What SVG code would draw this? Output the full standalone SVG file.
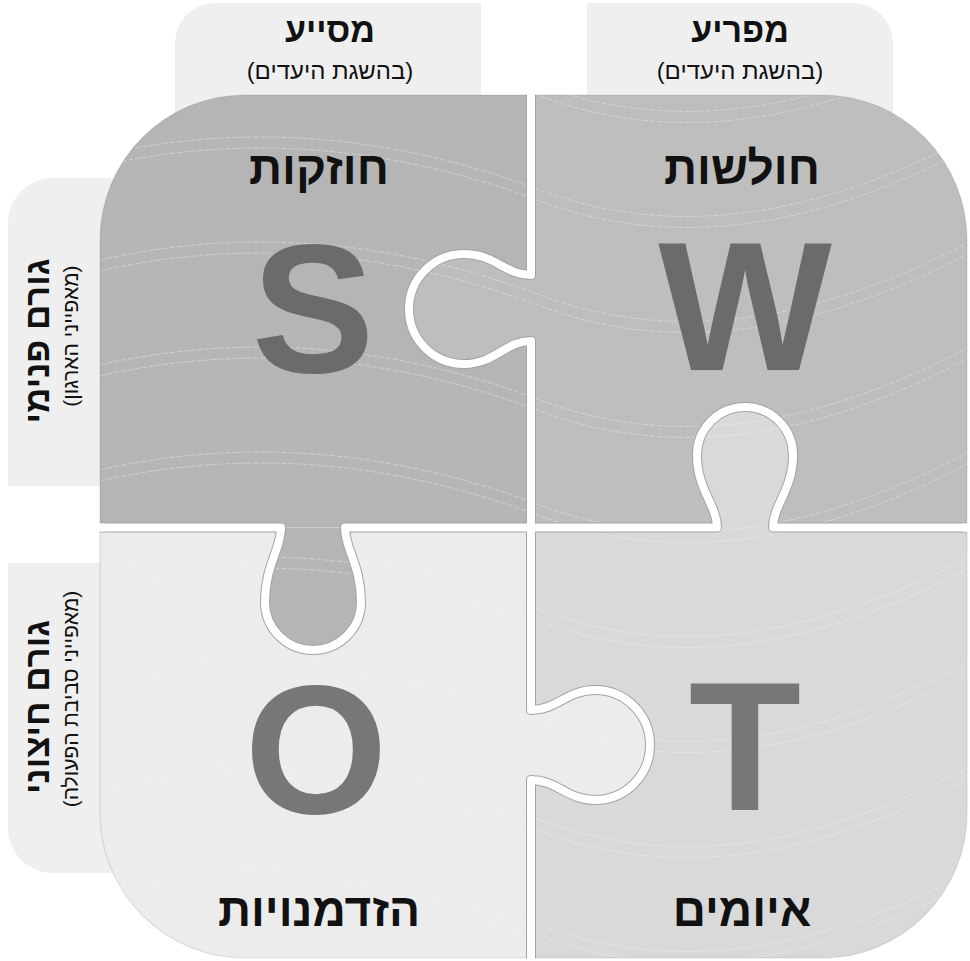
<svg xmlns="http://www.w3.org/2000/svg" xmlns:xlink="http://www.w3.org/1999/xlink" width="970" height="961" viewBox="0 0 970 961">
  <style>
    .tab { fill: #efefef; }
    .he { font-family: 'Liberation Sans', Arial, 'DejaVu Sans', sans-serif; direction: rtl; text-anchor: middle; fill: #111; }
    .hb { font-weight: bold; }
    .big { font-family: 'Liberation Sans', Arial, sans-serif; font-size: 184px; font-weight: bold; text-anchor: middle; }
    .seam-dark { fill: none; stroke: #a3a3a3; stroke-width: 10; stroke-linejoin: round; }
    .seam { fill: none; stroke: #ffffff; stroke-width: 8; stroke-linejoin: round; }
    .tex { fill: none; stroke: #ffffff; stroke-width: 1; stroke-opacity: 0.35; stroke-dasharray: 5 2; }
  </style>
  <defs>
    <clipPath id="outer">
      <path d="M 245 95 H 822 A 145 145 0 0 1 967 240 V 813 A 145 145 0 0 1 822 958 H 245 A 145 145 0 0 1 100 813 V 240 A 145 145 0 0 1 245 95 Z"/>
    </clipPath>
    <path id="wave" d="M 60 0 C 220 -45 380 -35 540 25 S 860 35 1000 -45"/>
  </defs>
  <rect width="970" height="961" fill="#ffffff"/>

  <!-- side and top tabs -->
  <g id="tab-supportive">
    <path class="tab" d="M 175 43 A 40 40 0 0 1 215 3 H 481 V 140 H 175 Z"/>
    <text class="he hb" x="330" y="42" font-size="34">מסייע</text>
    <text class="he" x="330" y="79" font-size="24">(בהשגת היעדים)</text>
  </g>
  <g id="tab-hindering">
    <path class="tab" d="M 587 3 H 853 A 40 40 0 0 1 893 43 V 140 H 587 Z"/>
    <text class="he hb" x="740" y="42" font-size="34">מפריע</text>
    <text class="he" x="740" y="79" font-size="24">(בהשגת היעדים)</text>
  </g>
  <g id="tab-internal">
    <path class="tab" d="M 8 223 A 45 45 0 0 1 53 178 H 150 V 486 H 8 Z"/>
    <text class="he hb" font-size="35" transform="translate(49,341) rotate(-90)">גורם פנימי</text>
    <text class="he" font-size="21" transform="translate(78,336) rotate(-90)">(מאפייני הארגון)</text>
  </g>
  <g id="tab-external">
    <path class="tab" d="M 8 563 H 150 V 873 H 53 A 45 45 0 0 1 8 828 Z"/>
    <text class="he hb" font-size="35" transform="translate(49,707) rotate(-90)">גורם חיצוני</text>
    <text class="he" font-size="21" transform="translate(78,699) rotate(-90)">(מאפייני סביבת הפעולה)</text>
  </g>

  <!-- puzzle pieces -->
  <g clip-path="url(#outer)">
    <g id="piece-S"><rect x="100" y="95" width="431" height="432.5" fill="#b5b5b5"/></g>
    <g id="piece-W"><rect x="531" y="95" width="436" height="432.5" fill="#bebebe"/></g>
    <g id="piece-O"><rect x="100" y="527.5" width="431" height="431" fill="#ececec"/></g>
    <g id="piece-T"><rect x="531" y="527.5" width="436" height="431" fill="#d9d9d9"/></g>
    <g id="knobs">
      <path fill="#bebebe" d="M 531 275 C 505 275 495 254 464 254 A 55 55 0 0 0 464 364 C 495 364 505 341 531 341 Z"/>
      <path fill="#d9d9d9" d="M 717 527.5 C 717 505 697 490 697 455 A 48 48 0 1 1 793 455 C 793 490 773 505 773 527.5 Z"/>
      <path fill="#b5b5b5" d="M 281 527.5 C 281 550 265 565 265 602 A 48 48 0 1 0 361 602 C 361 565 345 550 345 527.5 Z"/>
      <path fill="#ececec" d="M 531 710 C 557 710 567 690 595 690 A 55 55 0 0 1 595 800 C 567 800 557 780 531 780 Z"/>
    </g>
    <g id="texture" class="tex">
      <use xlink:href="#wave" y="60"/><use xlink:href="#wave" y="71"/>
      <use xlink:href="#wave" y="165"/><use xlink:href="#wave" y="176"/>
      <use xlink:href="#wave" y="270"/><use xlink:href="#wave" y="281"/>
      <use xlink:href="#wave" y="375"/><use xlink:href="#wave" y="386"/>
      <use xlink:href="#wave" y="480"/><use xlink:href="#wave" y="491"/>
      <use xlink:href="#wave" y="585"/><use xlink:href="#wave" y="596"/>
      <use xlink:href="#wave" y="690"/><use xlink:href="#wave" y="701"/>
      <use xlink:href="#wave" y="795"/><use xlink:href="#wave" y="806"/>
      <use xlink:href="#wave" y="900"/><use xlink:href="#wave" y="911"/>
      <use xlink:href="#wave" y="1005"/><use xlink:href="#wave" y="1016"/>
    </g>
    <!-- seams between pieces -->
    <g id="connectors">
      <g class="seam-dark">
        <path d="M 531 90 V 275 C 505 275 495 254 464 254 A 55 55 0 0 0 464 364 C 495 364 505 341 531 341 V 527.5"/>
        <path d="M 531 527.5 V 710 C 557 710 567 690 595 690 A 55 55 0 0 1 595 800 C 567 800 557 780 531 780 V 965"/>
        <path d="M 95 527.5 H 281 C 281 550 265 565 265 602 A 48 48 0 1 0 361 602 C 361 565 345 550 345 527.5 H 531"/>
        <path d="M 531 527.5 H 717 C 717 505 697 490 697 455 A 48 48 0 1 1 793 455 C 793 490 773 505 773 527.5 H 972"/>
      </g>
      <g class="seam">
        <path d="M 531 90 V 275 C 505 275 495 254 464 254 A 55 55 0 0 0 464 364 C 495 364 505 341 531 341 V 527.5"/>
        <path d="M 531 527.5 V 710 C 557 710 567 690 595 690 A 55 55 0 0 1 595 800 C 567 800 557 780 531 780 V 965"/>
        <path d="M 95 527.5 H 281 C 281 550 265 565 265 602 A 48 48 0 1 0 361 602 C 361 565 345 550 345 527.5 H 531"/>
        <path d="M 531 527.5 H 717 C 717 505 697 490 697 455 A 48 48 0 1 1 793 455 C 793 490 773 505 773 527.5 H 972"/>
      </g>
    </g>
  </g>
  <path d="M 245 95 H 822 A 145 145 0 0 1 967 240 V 813 A 145 145 0 0 1 822 958 H 245 A 145 145 0 0 1 100 813 V 240 A 145 145 0 0 1 245 95 Z" fill="none" stroke="#000" stroke-opacity="0.1" stroke-width="1.2"/>
  <rect x="527" y="90" width="8" height="10" fill="#ffffff"/>
  <rect x="527" y="953" width="8" height="10" fill="#ffffff"/>
  <rect x="95" y="523.5" width="10" height="8" fill="#ffffff"/>
  <rect x="962" y="523.5" width="10" height="8" fill="#ffffff"/>

  <!-- labels -->
  <g id="label-S">
    <text class="big" x="313" y="372" fill="#6b6b6b">S</text>
    <text class="he hb" x="319" y="184" font-size="46">חוזקות</text>
  </g>
  <g id="label-W">
    <text class="big" x="745" y="370" fill="#6b6b6b">W</text>
    <text class="he hb" x="742" y="184" font-size="46">חולשות</text>
  </g>
  <g id="label-O">
    <text class="big" x="316" y="813" fill="#777777">O</text>
    <text class="he hb" x="319" y="926" font-size="46">הזדמנויות</text>
  </g>
  <g id="label-T">
    <text class="big" x="745" y="810" fill="#777777">T</text>
    <text class="he hb" x="742" y="926" font-size="46">איומים</text>
  </g>
</svg>
